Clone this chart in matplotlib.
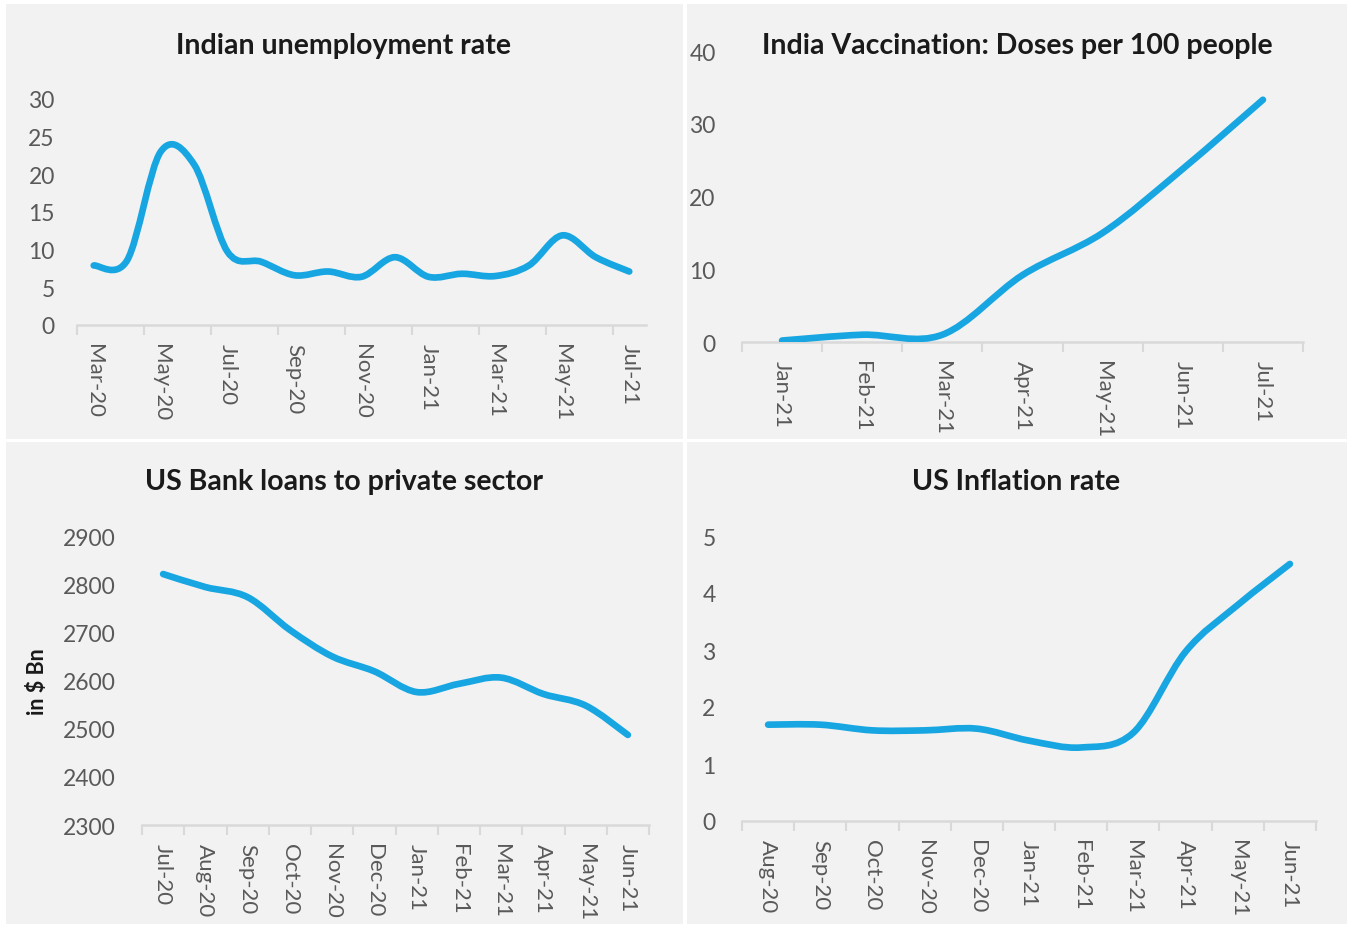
import numpy as np
import matplotlib
matplotlib.use('Agg')
from matplotlib import pyplot as plt
from matplotlib.path import Path
from matplotlib.patches import PathPatch, Rectangle

# ---- data ----
unemp_months = ['Mar-20', 'Apr-20', 'May-20', 'Jun-20', 'Jul-20', 'Aug-20', 'Sep-20',
                'Oct-20', 'Nov-20', 'Dec-20', 'Jan-21', 'Feb-21', 'Mar-21', 'Apr-21',
                'May-21', 'Jun-21', 'Jul-21']
unemp_rate = [7.9, 8.6, 23.0, 21.3, 9.7, 8.4, 6.6, 7.1, 6.4, 9.0, 6.4, 6.8, 6.5, 7.9,
              11.9, 9.0, 7.1]

vacc_months = ['Jan-21', 'Feb-21', 'Mar-21', 'Apr-21', 'May-21', 'Jun-21', 'Jul-21']
vacc_doses = [0.2, 1.0, 1.0, 9.2, 15.0, 23.8, 33.3]

loan_months = ['Jul-20', 'Aug-20', 'Sep-20', 'Oct-20', 'Nov-20', 'Dec-20', 'Jan-21',
               'Feb-21', 'Mar-21', 'Apr-21', 'May-21', 'Jun-21']
loan_bn = [2821, 2794, 2773, 2705, 2650, 2619, 2576, 2593, 2606, 2572, 2548, 2487]

infl_months = ['Aug-20', 'Sep-20', 'Oct-20', 'Nov-20', 'Dec-20', 'Jan-21', 'Feb-21',
               'Mar-21', 'Apr-21', 'May-21', 'Jun-21']
infl_rate = [1.69, 1.69, 1.59, 1.59, 1.62, 1.41, 1.29, 1.55, 2.97, 3.79, 4.51]

# ---- style ----
W, H = 1352, 929
LINE_COL = '#17a6e1'
PANEL_COL = '#f2f2f2'
AXIS_COL = '#d9d9d9'
TICK_COL = '#595959'
plt.rcParams['font.family'] = ['Lato', 'DejaVu Sans']

fig = plt.figure(figsize=(W / 100, H / 100), dpi=100, facecolor='white')


def px_axes(x0, y0, x1, y1):
    ''' axes from pixel box (y measured from top) '''
    return fig.add_axes([x0 / W, 1 - y1 / H, (x1 - x0) / W, (y1 - y0) / H])


def smooth_line(ax, yvals):
    ''' excel-like smoothed line: bezier through the data points '''
    n = len(yvals)
    pts = [(float(i), float(v)) for i, v in enumerate(yvals)]
    verts = [pts[0]]
    codes = [Path.MOVETO]
    for i in range(n - 1):
        p0 = pts[max(i - 1, 0)]
        p1 = pts[i]
        p2 = pts[i + 1]
        p3 = pts[min(i + 2, n - 1)]
        c1 = (p1[0] + (p2[0] - p0[0]) / 6, p1[1] + (p2[1] - p0[1]) / 6)
        c2 = (p2[0] - (p3[0] - p1[0]) / 6, p2[1] - (p3[1] - p1[1]) / 6)
        verts += [c1, c2, p2]
        codes += [Path.CURVE4] * 3
    patch = PathPatch(Path(verts, codes), facecolor='none', edgecolor=LINE_COL,
                      lw=4.8, capstyle='round', joinstyle='round',
                      transform=ax.transData, zorder=3)
    ax.add_patch(patch)


def style_axes(ax, labels, ylim, yticks, tick_every=1, label_every=1, ypad=19):
    n = len(labels)
    ax.set_xlim(-0.5, n - 0.5)
    ax.set_ylim(*ylim)
    ax.patch.set_alpha(0)
    for s in ['top', 'right', 'left']:
        ax.spines[s].set_visible(False)
    ax.spines['bottom'].set_color(AXIS_COL)
    ax.spines['bottom'].set_linewidth(1.8)
    ax.set_yticks(yticks)
    ax.tick_params(axis='y', length=0, labelsize=16.5, labelcolor=TICK_COL, pad=ypad)
    # tick marks between categories, labels on categories
    ax.set_xticks(np.arange(-0.5, n, tick_every))
    ax.set_xticklabels([])
    ax.tick_params(axis='x', which='major', length=7, width=1.5, color=AXIS_COL)
    ax.set_xticks(np.arange(0, n, label_every), minor=True)
    ax.set_xticklabels(labels[::label_every], minor=True, rotation=-90)
    ax.tick_params(axis='x', which='minor', length=0, labelsize=16,
                   labelcolor=TICK_COL, pad=13)


# panel backgrounds
for (x0, y0, x1, y1) in [(6, 5, 683, 440), (687, 5, 1347, 440),
                         (6, 443, 683, 925), (687, 443, 1347, 925)]:
    fig.patches.append(Rectangle((x0 / W, 1 - y1 / H), (x1 - x0) / W, (y1 - y0) / H,
                                 transform=fig.transFigure, facecolor=PANEL_COL,
                                 edgecolor='none', zorder=-1))

title_kw = dict(fontsize=20.5, fontweight='bold', color='#1a1a1a', ha='center', va='center')

# Indian unemployment
ax1 = px_axes(77, 100, 646, 326)
smooth_line(ax1, unemp_rate)
style_axes(ax1, unemp_months, (0, 30), range(0, 31, 5), tick_every=2, label_every=2,
           ypad=16)
fig.text(343 / W, 1 - 46 / H, 'Indian unemployment rate', **title_kw)

# India vaccination
ax2 = px_axes(742, 52, 1303, 343)
smooth_line(ax2, vacc_doses)
style_axes(ax2, vacc_months, (0, 40), range(0, 41, 10))
fig.text(1017 / W, 1 - 46 / H, 'India Vaccination: Doses per 100 people', **title_kw)

# US bank loans
ax3 = px_axes(142, 537, 649, 826)
smooth_line(ax3, loan_bn)
style_axes(ax3, loan_months, (2300, 2900), range(2300, 2901, 100))
fig.text(344 / W, 1 - 482 / H, 'US Bank loans to private sector', **title_kw)
fig.text(37 / W, 1 - 682 / H, 'in $ Bn', rotation=90, fontsize=15.5, fontweight='bold',
         color='#1a1a1a', ha='center', va='center')

# US inflation
ax4 = px_axes(742, 537, 1316, 822)
smooth_line(ax4, infl_rate)
style_axes(ax4, infl_months, (0, 5), range(0, 6))
fig.text(1016 / W, 1 - 482 / H, 'US Inflation rate', **title_kw)

plt.savefig('out.png', dpi=100, facecolor='white')
